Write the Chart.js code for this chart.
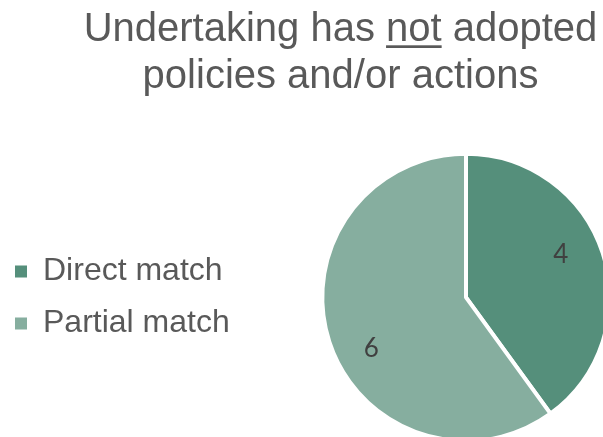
<!DOCTYPE html>
<html><head><meta charset="utf-8">
<script src="https://cdn.jsdelivr.net/npm/chart.js@4/dist/chart.umd.min.js"></script>
<style>
html,body{margin:0;padding:0;background:#fff;overflow:hidden;width:603px;height:437px;position:relative;}
#wrap{position:absolute;left:-10px;top:0;width:730px;height:460px;}
</style></head><body>
<div id="wrap"><canvas id="c"></canvas></div>
<script>
const categories = ['Direct match', 'Partial match'];
const values = [4, 6];
const sliceColors = ['#558F7B', '#86AE9F'];
const titleLine1 = ['Undertaking has ', 'not', ' adopted'];
const titleLine2 = 'policies and/or actions';

const LEGEND_FONT = '"Liberation Sans", Arial, sans-serif';
const LEGEND_SIZE = 32;
const LEGEND_PAD = 20;
const BOX = 12;
const CANVAS_W = 730;
const PIE_CX = 476;   // canvas coords
const PAD_LEFT = 5;

const mctx = document.createElement('canvas').getContext('2d');
mctx.font = LEGEND_SIZE + 'px ' + LEGEND_FONT;
const maxText = Math.max(...categories.map(c => mctx.measureText(c).width));
const legendW = LEGEND_PAD + BOX + LEGEND_SIZE / 2 + maxText + 10;
const areaLeft = PAD_LEFT + legendW;
const padRight = CANVAS_W - (2 * PIE_CX - areaLeft);

const titlePlugin = {
  id: 'customTitle',
  afterDraw(chart) {
    const ctx = chart.ctx;
    ctx.save();
    ctx.font = '40px "Liberation Sans", Arial, sans-serif';
    ctx.fillStyle = '#595959';
    ctx.textBaseline = 'alphabetic';
    ctx.textAlign = 'left';
    const cx = 350.5;
    const full = titleLine1.join('');
    let x = cx - ctx.measureText(full).width / 2;
    titleLine1.forEach((part, i) => {
      ctx.fillText(part, x, 41);
      const pw = ctx.measureText(part).width;
      if (i === 1) ctx.fillRect(x, 45.3, pw, 2.7);
      x += pw;
    });
    ctx.textAlign = 'center';
    ctx.fillText(titleLine2, cx, 87.5);
    ctx.restore();
  }
};

const valueLabels = {
  id: 'valueLabels',
  afterDatasetsDraw(chart) {
    const ctx = chart.ctx;
    const meta = chart.getDatasetMeta(0);
    const ds = chart.data.datasets[0].data;
    ctx.save();
    ctx.font = '26px Lato, "Open Sans", sans-serif';
    ctx.fillStyle = '#404040';
    ctx.textAlign = 'center';
    ctx.textBaseline = 'middle';
    meta.data.forEach((arc, i) => {
      const p = arc.getProps(['x', 'y', 'startAngle', 'endAngle', 'outerRadius'], true);
      const a = (p.startAngle + p.endAngle) / 2 - 8.3 * Math.PI / 180;
      const r = p.outerRadius * 0.735;
      ctx.fillText(String(ds[i]), p.x + Math.cos(a) * r, p.y + Math.sin(a) * r + 4);
    });
    ctx.restore();
  }
};

new Chart(document.getElementById('c'), {
  type: 'pie',
  data: {
    labels: categories,
    datasets: [{
      data: values,
      backgroundColor: sliceColors,
      borderColor: '#ffffff',
      borderWidth: 4
    }]
  },
  options: {
    responsive: true,
    maintainAspectRatio: false,
    animation: false,
    events: [],
    layout: { padding: { left: PAD_LEFT, right: padRight, top: 151.7, bottom: 16.9 } },
    plugins: {
      title: { display: false },
      tooltip: { enabled: false },
      legend: {
        position: 'left',
        align: 'center',
        labels: {
          boxWidth: BOX,
          boxHeight: BOX,
          padding: LEGEND_PAD,
          color: '#595959',
          font: { family: LEGEND_FONT, size: LEGEND_SIZE },
          generateLabels(chart) {
            return Chart.overrides.pie.plugins.legend.labels.generateLabels(chart).map(l => {
              l.lineWidth = 0;
              l.strokeStyle = 'rgba(0,0,0,0)';
              return l;
            });
          }
        }
      }
    }
  },
  plugins: [titlePlugin, valueLabels]
});
</script>
</body></html>
